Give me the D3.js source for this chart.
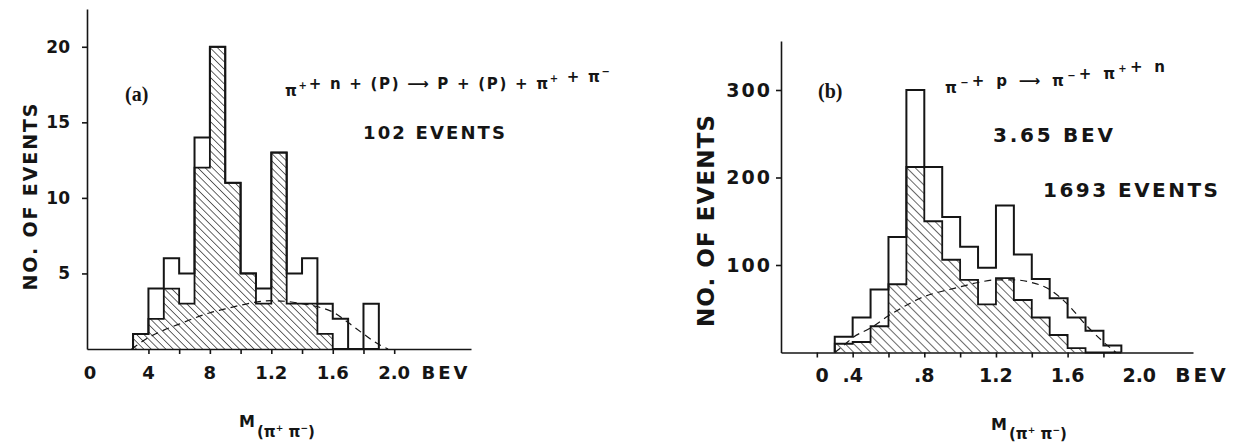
<!DOCTYPE html>
<html>
<head>
<meta charset="utf-8">
<script src="https://cdn.jsdelivr.net/npm/d3@7"></script>
<style>
  body { margin: 0; background: #fff; }
  svg { display: block; }
  text { font-family: "DejaVu Sans", sans-serif; font-weight: bold; fill: #151515; }
  .serif { font-family: "Liberation Serif", serif; font-weight: bold; }
  .axis path, .axis line { stroke: #151515; stroke-width: 1.6; }
</style>
</head>
<body>
<svg id="chart" width="1238" height="443"></svg>
<script>
// bin lower edges, 0.1 BeV wide
const binWidth = 0.1;
const binStarts = [0.3, 0.4, 0.5, 0.6, 0.7, 0.8, 0.9, 1.0, 1.1, 1.2, 1.3, 1.4, 1.5, 1.6, 1.7, 1.8];

// (a) pi+ n (p) -> p (p) pi+ pi-
const totalA = [1, 4, 6, 5, 14, 20, 11, 5, 4, 13, 5, 6, 3, 2, 0, 3];
const hatchA = [1, 2, 4, 3, 12, 20, 11, 5, 3, 13, 3, 3, 1, 0, 0, 0];
const phaseMassA = [0.29, 0.4, 0.5, 0.6, 0.7, 0.8, 0.9, 1.0, 1.1, 1.2, 1.3, 1.4, 1.5, 1.6, 1.7, 1.8, 1.9, 1.96];
const phaseA = [0, 0.75, 1.25, 1.65, 2.05, 2.4, 2.65, 2.9, 3.1, 3.2, 3.15, 3.0, 2.8, 2.45, 1.75, 1.0, 0.3, 0];

// (b) pi- p -> pi- pi+ n, 3.65 BeV
const totalB = [18, 40, 72, 132, 300, 212, 155, 121, 97, 168, 112, 84, 62, 40, 25, 8];
const hatchB = [10, 12, 30, 78, 212, 150, 106, 83, 55, 85, 60, 40, 20, 5, 0, 0];
const phaseMassB = [0.3, 0.35, 0.4, 0.5, 0.6, 0.7, 0.8, 0.9, 1.0, 1.1, 1.2, 1.3, 1.4, 1.5, 1.6, 1.7, 1.8, 1.87];
const phaseB = [0, 8, 17, 28, 42, 54, 64, 70, 75, 80, 83, 83, 80, 72, 55, 32, 12, 0];

const yTicksA = [5, 10, 15, 20];
const xTicksA = [0.4, 0.6, 0.8, 1.0, 1.2, 1.4, 1.6, 1.8, 2.0];
const xLabelsA = [[0, "0"], [0.4, "4"], [0.8, "8"], [1.2, "1.2"], [1.6, "1.6"], [2.0, "2.0"]];
const yTicksB = [100, 200, 300];
const xTicksB = [0.2, 0.4, 0.6, 0.8, 1.0, 1.2, 1.4, 1.6, 1.8];
const xLabelsB = [[0, "0"], [0.4, ".4"], [0.8, ".8"], [1.2, "1.2"], [1.6, "1.6"], [2.0, "2.0"]];

const svg = d3.select("#chart");

const defs = svg.append("defs");
function hatch(id, gap) {
  defs.append("pattern")
    .attr("id", id)
    .attr("patternUnits", "userSpaceOnUse")
    .attr("width", gap)
    .attr("height", gap)
    .attr("patternTransform", "rotate(-45)")
    .append("line")
    .attr("x1", 0).attr("y1", -1)
    .attr("x2", 0).attr("y2", gap + 1)
    .attr("stroke", "#151515")
    .attr("stroke-width", 1.3);
}
hatch("hatchA", 5.2);
hatch("hatchB", 6);

function stepPoints(counts) {
  const pts = [[binStarts[0], 0]];
  counts.forEach((c, i) => {
    pts.push([binStarts[i], c], [binStarts[i] + binWidth, c]);
  });
  pts.push([binStarts[binStarts.length - 1] + binWidth, 0]);
  return pts;
}

function panel(cfg) {
  const g = svg.append("g");
  const x = cfg.x, y = cfg.y;
  const line = d3.line().x(d => x(d[0])).y(d => y(d[1]));

  g.append("path")
    .attr("d", line(stepPoints(cfg.hatch)))
    .attr("fill", `url(#${cfg.pattern})`)
    .attr("stroke", "#151515")
    .attr("stroke-width", 1.8)
    .attr("stroke-linejoin", "miter");

  g.append("path")
    .attr("d", line(stepPoints(cfg.total)))
    .attr("fill", "none")
    .attr("stroke", "#151515")
    .attr("stroke-width", 2)
    .attr("stroke-linejoin", "miter");

  const phaseLine = d3.line()
    .x((d, i) => x(cfg.phaseMass[i]))
    .y(d => y(d))
    .curve(d3.curveMonotoneX);
  g.append("path")
    .attr("d", phaseLine(cfg.phase))
    .attr("fill", "none")
    .attr("stroke", "#151515")
    .attr("stroke-width", 1.2)
    .attr("stroke-dasharray", "7,5");

  g.append("g")
    .attr("class", "axis")
    .attr("transform", `translate(${x(0)},0)`)
    .call(d3.axisLeft(y).tickValues(cfg.yTicks).tickSize(5).tickSizeOuter(0).tickPadding(cfg.yPad))
    .call(a => a.selectAll("text")
      .attr("font-family", null).attr("font-size", null)
      .style("font-size", cfg.yFont + "px")
      .style("letter-spacing", cfg.ySpacing + "px")
      .attr("fill", "#151515"));

  g.append("g")
    .attr("class", "axis")
    .attr("transform", `translate(0,${y(0)})`)
    .call(d3.axisBottom(x).tickValues(cfg.xTicks).tickSize(5).tickSizeOuter(0).tickFormat(""));

  g.selectAll("text.xl")
    .data(cfg.xLabels)
    .enter()
    .append("text")
    .attr("class", "xl")
    .attr("x", d => x(d[0]) + (d[0] === 0 ? cfg.zeroShift : 0))
    .attr("y", cfg.xLabelY)
    .attr("text-anchor", "middle")
    .style("font-size", cfg.xFont + "px")
    .text(d => d[1]);
  return g;
}

const xA = d3.scaleLinear().domain([0, 2.5]).range([87, 471]);
const yA = d3.scaleLinear().domain([0, 22.5]).range([349, 9]);
panel({
  x: xA, y: yA, total: totalA, hatch: hatchA, pattern: "hatchA",
  phaseMass: phaseMassA, phase: phaseA,
  yTicks: yTicksA, xTicks: xTicksA, xLabels: xLabelsA,
  yPad: 12, yFont: 17, ySpacing: 0, xFont: 18, xLabelY: 379, zeroShift: 3
});

const xB = d3.scaleLinear().domain([0, 2.3]).range([781, 1193]);
const yB = d3.scaleLinear().domain([0, 356]).range([352.5, 41]);
panel({
  x: xB, y: yB, total: totalB, hatch: hatchB, pattern: "hatchB",
  phaseMass: phaseMassB, phase: phaseB,
  yTicks: yTicksB, xTicks: xTicksB, xLabels: xLabelsB,
  yPad: 4, yFont: 19, ySpacing: 2, xFont: 19, xLabelY: 382, zeroShift: 41
});

// axis titles and annotations
function vlabel(cx, cy, len, size) {
  svg.append("text")
    .attr("transform", `translate(${cx},${cy}) rotate(-90)`)
    .attr("text-anchor", "middle")
    .attr("dy", "0.36em")
    .attr("textLength", len)
    .attr("lengthAdjust", "spacing")
    .style("font-size", size + "px")
    .text("NO. OF EVENTS");
}
vlabel(30, 197, 187, 19);
vlabel(706, 221, 212, 23);

svg.append("text").attr("x", 446).attr("y", 379).attr("text-anchor", "middle")
  .style("font-size", "18px").style("letter-spacing", "3px").text("BEV");
svg.append("text").attr("x", 1202).attr("y", 382).attr("text-anchor", "middle")
  .style("font-size", "20px").style("letter-spacing", "3px").text("BEV");

function massLabel(mx, my, px, py) {
  svg.append("text").attr("x", mx).attr("y", my).style("font-size", "16px").text("M");
  const t = svg.append("text").attr("x", px).attr("y", py).style("font-size", "15px");
  t.append("tspan").text("(π");
  t.append("tspan").attr("dy", -6).style("font-size", "9px").text("+");
  t.append("tspan").attr("dy", 6).text(" π");
  t.append("tspan").attr("dy", -6).style("font-size", "9px").text("−");
  t.append("tspan").attr("dy", 6).text(")");
}
massLabel(239, 427, 257, 437);
massLabel(991, 430, 1009, 439);

svg.append("text").attr("class", "serif").attr("x", 125).attr("y", 101)
  .style("font-size", "20px").text("(a)");
svg.append("text").attr("class", "serif").attr("x", 818).attr("y", 98)
  .style("font-size", "20px").text("(b)");

function reaction(x0, y0, len, parts) {
  const t = svg.append("text").attr("x", x0).attr("y", y0)
    .attr("textLength", len).attr("lengthAdjust", "spacing")
    .style("font-size", "15px");
  parts.forEach(p => {
    if (p.sup) {
      t.append("tspan").attr("dy", -7).style("font-size", "10px").text(p.sup);
      t.append("tspan").attr("dy", 7).text("");
    } else {
      t.append("tspan").text(p.t);
    }
  });
}
reaction(285, 96, 325, [
  { t: "π" }, { sup: "+" }, { t: "+ n + (P) ⟶ P + (P) + π" }, { sup: "+" },
  { t: " + π" }, { sup: "−" }
]);
reaction(945, 93, 220, [
  { t: "π" }, { sup: "−" }, { t: "+ p ⟶ π" }, { sup: "−" }, { t: "+ π" },
  { sup: "+" }, { t: "+ n" }
]);

svg.append("text").attr("x", 363).attr("y", 139).attr("textLength", 142)
  .attr("lengthAdjust", "spacing").style("font-size", "18px").text("102 EVENTS");
svg.append("text").attr("x", 993).attr("y", 142).attr("textLength", 120)
  .attr("lengthAdjust", "spacing").style("font-size", "20px").text("3.65 BEV");
svg.append("text").attr("x", 1043).attr("y", 197).attr("textLength", 175)
  .attr("lengthAdjust", "spacing").style("font-size", "20px").text("1693 EVENTS");
</script>
</body>
</html>
